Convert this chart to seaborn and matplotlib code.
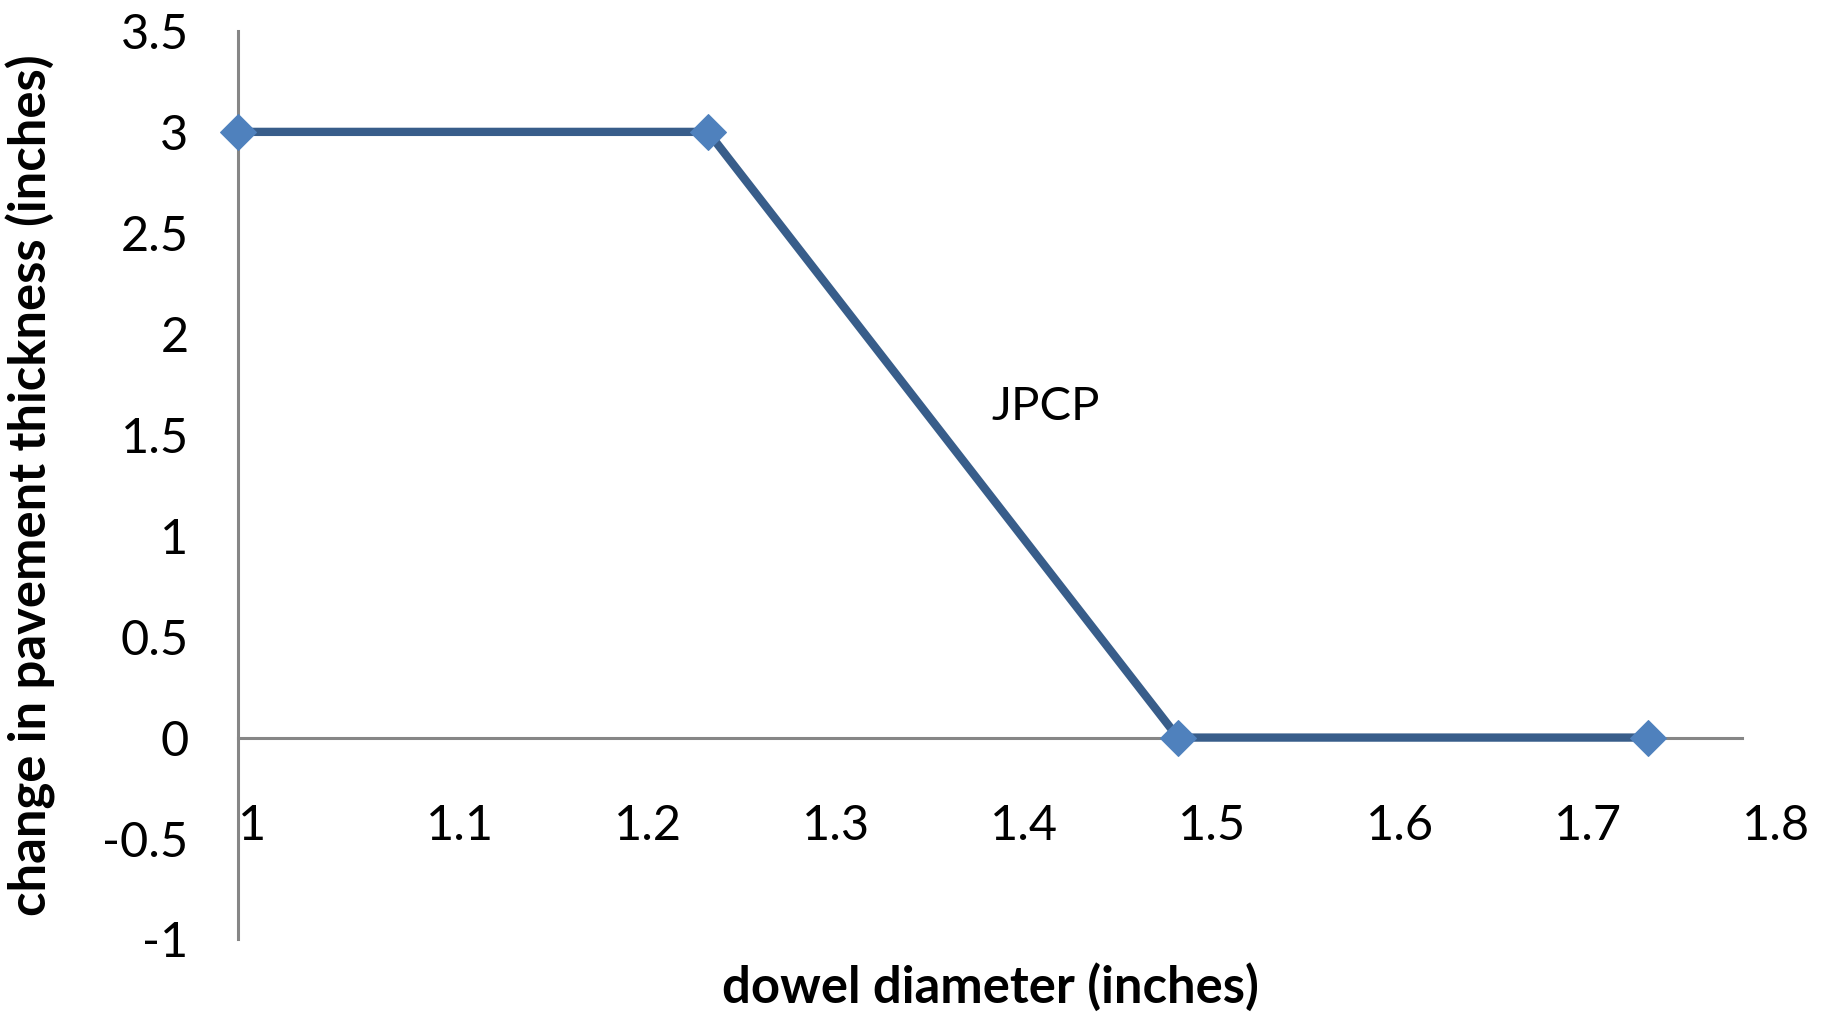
import matplotlib
matplotlib.use("Agg")
import matplotlib.pyplot as plt
import seaborn as sns
import pandas as pd

dowel_diameter = [1.0, 1.25, 1.5, 1.75]
thickness_change = [3.0, 3.0, 0.0, 0.0]
series_label = "JPCP"
x_ticks = [1.0, 1.1, 1.2, 1.3, 1.4, 1.5, 1.6, 1.7, 1.8]
x_tick_labels = ["1", "1.1", "1.2", "1.3", "1.4", "1.5", "1.6", "1.7", "1.8"]
y_ticks = [-1, -0.5, 0, 0.5, 1, 1.5, 2, 2.5, 3, 3.5]
y_tick_labels = ["-1", "-0.5", "0", "0.5", "1", "1.5", "2", "2.5", "3", "3.5"]

sns.set_theme(style="white")
plt.rcParams['font.family'] = ['Lato', 'DejaVu Sans']

df = pd.DataFrame({"x": dowel_diameter, "y": thickness_change})

fig = plt.figure(figsize=(18.3, 10.14), dpi=100)
ax = fig.add_axes([0.130, 0.0735, 0.822, 0.896])

line_color = "#385D8A"
marker_color = "#4F81BD"
sns.lineplot(data=df, x="x", y="y", ax=ax, color=line_color, linewidth=6,
             marker="D", markersize=18, markerfacecolor=marker_color,
             markeredgecolor=marker_color, zorder=5, clip_on=False)

ax.set_xlim(1.0, 1.8)
ax.set_ylim(-1, 3.5)
ax.set_xticks(x_ticks)
ax.set_xticklabels(x_tick_labels)
ax.set_yticks(y_ticks)
ax.set_yticklabels(y_tick_labels)

spine_color = "#868686"
for s in ["top", "right"]:
    ax.spines[s].set_visible(False)
ax.spines["bottom"].set_position(("data", 0))
for s in ["left", "bottom"]:
    ax.spines[s].set_color(spine_color)
    ax.spines[s].set_linewidth(2.2)

ax.tick_params(axis="both", direction="out", length=11.5, width=2.2,
               color=spine_color, labelsize=35, labelcolor="black")
ax.tick_params(axis="x", pad=36)
ax.tick_params(axis="y", pad=24)
for lbl in ax.get_xticklabels():
    lbl.set_horizontalalignment("left")

ax.set_xlabel("dowel diameter (inches)", fontsize=36.5, fontweight="bold",
              color="black")
ax.set_ylabel("change in pavement thickness (inches)", fontsize=36.5,
              fontweight="bold", color="black")
ax.xaxis.set_label_coords(0.50, -0.026)
ax.yaxis.set_label_coords(-0.121, 0.5)

ax.text(1.401, 1.635, series_label, fontsize=34, color="black",
        ha="left", va="center")

ax.grid(False)
fig.savefig("out.png", dpi=100, facecolor="white")
